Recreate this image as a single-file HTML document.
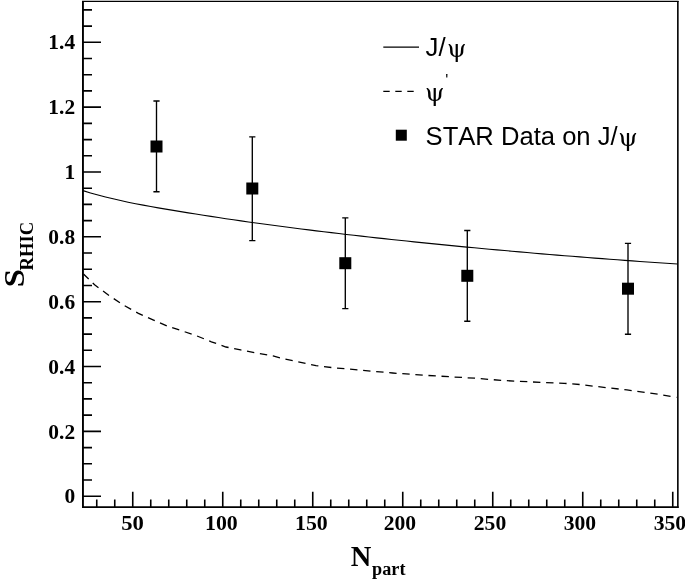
<!DOCTYPE html>
<html><head><meta charset="utf-8"><title>S_RHIC vs N_part</title>
<style>html,body{margin:0;padding:0;background:#fff}svg{display:block}.t{font-family:"Liberation Serif",serif;font-weight:bold;fill:#000}.h{font-family:"Liberation Sans",sans-serif;fill:#000;font-kerning:none}.g{font-family:"DejaVu Serif",serif;fill:#000}</style></head><body>
<svg width="685" height="579" viewBox="0 0 685 579">
<rect width="685" height="579" fill="#fff"/>
<polyline points="83.0,190.65 90.5,192.92 98.0,195.04 105.5,197.00 113.1,198.84 120.6,200.56 128.1,202.17 135.6,203.70 143.2,205.14 150.7,206.52 158.2,207.85 165.7,209.13 173.3,210.40 180.8,211.64 188.3,212.86 195.8,214.06 203.4,215.25 210.9,216.41 218.4,217.55 225.9,218.67 233.5,219.78 241.0,220.87 248.5,221.94 256.0,222.99 263.6,224.03 271.1,225.05 278.6,226.05 286.2,227.04 293.7,228.01 301.2,228.97 308.7,229.91 316.3,230.84 323.8,231.76 331.3,232.66 338.8,233.55 346.4,234.43 353.9,235.30 361.4,236.15 368.9,236.99 376.5,237.83 384.0,238.65 391.5,239.46 399.0,240.27 406.6,241.06 414.1,241.85 421.6,242.62 429.1,243.39 436.7,244.14 444.2,244.89 451.7,245.63 459.2,246.36 466.8,247.08 474.3,247.80 481.8,248.50 489.4,249.20 496.9,249.89 504.4,250.57 511.9,251.24 519.5,251.90 527.0,252.55 534.5,253.20 542.0,253.84 549.6,254.47 557.1,255.09 564.6,255.71 572.1,256.32 579.7,256.92 587.2,257.51 594.7,258.10 602.2,258.67 609.8,259.25 617.3,259.81 624.8,260.37 632.3,260.92 639.9,261.46 647.4,262.00 654.9,262.53 662.4,263.05 670.0,263.57 677.5,264.04" fill="none" stroke="#000" stroke-width="1.1"/>
<polyline points="83.5,274.0 94.6,284.8 109.2,295.6 123.8,305.3 138.4,313.4 153.0,319.9 167.6,326.3 182.2,330.9 196.8,335.9 211.4,341.8 226.0,347.0 240.6,349.9 255.2,352.8 273.0,355.9 285.3,359.2 300.7,362.3 316.0,365.7 331.3,367.5 362.0,370.3 392.6,373.0 423.3,375.2 454.0,377.0 474.8,378.2 501.4,380.4 532.8,382.0 564.2,383.3 579.9,384.5 595.5,386.4 626.9,389.9 658.3,394.3 676.5,397.4" fill="none" stroke="#000" stroke-width="1.3" stroke-dasharray="7.4 5.7" stroke-dashoffset="0.2"/>
<path d="M156.5 101.0V191.7M153.4 101.0H159.6M153.4 191.7H159.6" stroke="#000" stroke-width="1.35" fill="none"/>
<rect x="150.5" y="140.5" width="12" height="12" fill="#000"/>
<path d="M252.3 136.8V240.6M249.2 136.8H255.4M249.2 240.6H255.4" stroke="#000" stroke-width="1.35" fill="none"/>
<rect x="246.3" y="182.5" width="12" height="12" fill="#000"/>
<path d="M345.3 217.8V308.6M342.2 217.8H348.4M342.2 308.6H348.4" stroke="#000" stroke-width="1.35" fill="none"/>
<rect x="339.3" y="257.2" width="12" height="12" fill="#000"/>
<path d="M467.3 230.5V321.2M464.2 230.5H470.4M464.2 321.2H470.4" stroke="#000" stroke-width="1.35" fill="none"/>
<rect x="461.3" y="269.8" width="12" height="12" fill="#000"/>
<path d="M628.0 243.3V334.2M624.9 243.3H631.1M624.9 334.2H631.1" stroke="#000" stroke-width="1.35" fill="none"/>
<rect x="622.0" y="282.7" width="12" height="12" fill="#000"/>
<path d="M82.95 1.0V507.9" stroke="#000" stroke-width="1.9" fill="none"/>
<path d="M82.00 507.10H678.6" stroke="#000" stroke-width="1.6" fill="none"/>
<path d="M82.0 1.45H678.6" stroke="#000" stroke-width="1.2" fill="none"/>
<path d="M677.85 0.9V507.9" stroke="#000" stroke-width="1.6" fill="none"/>
<path d="M83.0 496.2h18M83.0 480.0h9M83.0 463.8h9M83.0 447.6h9M83.0 431.4h18M83.0 415.1h9M83.0 398.9h9M83.0 382.7h9M83.0 366.5h18M83.0 350.3h9M83.0 334.1h9M83.0 317.9h9M83.0 301.7h18M83.0 285.5h9M83.0 269.2h9M83.0 253.0h9M83.0 236.8h18M83.0 220.6h9M83.0 204.4h9M83.0 188.2h9M83.0 172.0h18M83.0 155.8h9M83.0 139.6h9M83.0 123.4h9M83.0 107.1h18M83.0 90.9h9M83.0 74.7h9M83.0 58.5h9M83.0 42.3h18M83.0 26.1h9M83.0 9.9h9" stroke="#000" stroke-width="1.6" fill="none"/>
<path d="M96.75 507.1v-7.6M114.75 507.1v-7.6M132.75 507.1v-15.3M150.75 507.1v-7.6M168.75 507.1v-7.6M186.75 507.1v-7.6M204.75 507.1v-7.6M222.75 507.1v-15.3M240.75 507.1v-7.6M258.75 507.1v-7.6M276.75 507.1v-7.6M294.75 507.1v-7.6M312.75 507.1v-15.3M330.75 507.1v-7.6M348.75 507.1v-7.6M366.75 507.1v-7.6M384.75 507.1v-7.6M402.75 507.1v-15.3M420.75 507.1v-7.6M438.75 507.1v-7.6M456.75 507.1v-7.6M474.75 507.1v-7.6M492.75 507.1v-15.3M510.75 507.1v-7.6M528.75 507.1v-7.6M546.75 507.1v-7.6M564.75 507.1v-7.6M582.75 507.1v-15.3M600.75 507.1v-7.6M618.75 507.1v-7.6M636.75 507.1v-7.6M654.75 507.1v-7.6M672.75 507.1v-15.3" stroke="#000" stroke-width="1.6" fill="none"/>
<text class="t" transform="translate(75.1 503.3) scale(1.02 1)" font-size="21" text-anchor="end">0</text>
<text class="t" transform="translate(75.1 438.5) scale(1.02 1)" font-size="21" text-anchor="end">0.2</text>
<text class="t" transform="translate(75.1 373.6) scale(1.02 1)" font-size="21" text-anchor="end">0.4</text>
<text class="t" transform="translate(75.1 308.8) scale(1.02 1)" font-size="21" text-anchor="end">0.6</text>
<text class="t" transform="translate(75.1 243.9) scale(1.02 1)" font-size="21" text-anchor="end">0.8</text>
<text class="t" transform="translate(75.1 179.1) scale(1.02 1)" font-size="21" text-anchor="end">1</text>
<text class="t" transform="translate(75.1 114.2) scale(1.02 1)" font-size="21" text-anchor="end">1.2</text>
<text class="t" transform="translate(75.1 49.4) scale(1.02 1)" font-size="21" text-anchor="end">1.4</text>
<text class="t" transform="translate(132.5 529.9) scale(1.08 1)" font-size="21" text-anchor="middle">50</text>
<text class="t" transform="translate(221.4 529.9) scale(1.04 1)" font-size="21" text-anchor="middle">100</text>
<text class="t" transform="translate(311.4 529.9) scale(1.04 1)" font-size="21" text-anchor="middle">150</text>
<text class="t" transform="translate(399.9 529.9) scale(1.03 1)" font-size="21" text-anchor="middle">200</text>
<text class="t" transform="translate(490.0 529.9) scale(1.03 1)" font-size="21" text-anchor="middle">250</text>
<text class="t" transform="translate(579.9 529.9) scale(1.03 1)" font-size="21" text-anchor="middle">300</text>
<text class="t" transform="translate(669.9 529.9) scale(1.03 1)" font-size="21" text-anchor="middle">350</text>
<text class="t" x="350.7" y="566.1" font-size="28.5">N<tspan font-size="18.2" dy="8.7" dx="0.8">part</tspan></text>
<text class="t" transform="translate(24.3 287.2) rotate(-90) scale(1.15 1)" font-size="28.5">S</text>
<text class="t" transform="translate(33.2 270.4) rotate(-90)" font-size="18.6">RHIC</text>
<path d="M383.3 47.1H419" stroke="#000" stroke-width="1.15"/>
<path d="M383.3 91.4H419" stroke="#000" stroke-width="1.15" stroke-dasharray="6.4 5.6"/>
<rect x="395.8" y="129.7" width="11" height="11" fill="#000"/>
<text class="h" x="425.6" y="56" font-size="25.8">J/<tspan class="g" font-size="24.8" dx="1.4" dy="0.5">ψ</tspan></text>
<text class="g" x="425.1" y="101" font-size="24.8">ψ<tspan font-size="16" dy="-15.4" dx="0.7" class="h">'</tspan></text>
<text class="h" x="425.6" y="145.3" font-size="25.6">STAR Data on J/<tspan class="g" font-size="24.8" dx="0.7" dy="0.7">ψ</tspan></text>
</svg></body></html>
